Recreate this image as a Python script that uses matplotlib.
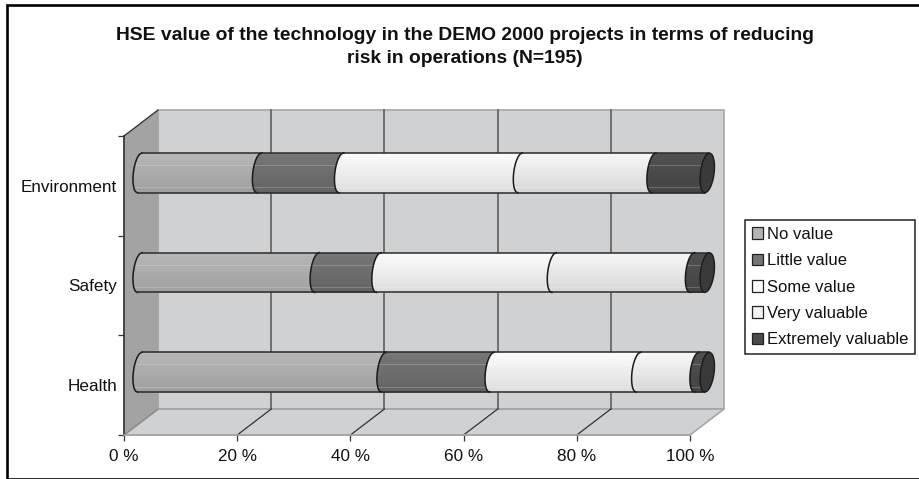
import matplotlib
matplotlib.use('Agg')
import matplotlib.pyplot as plt
import numpy as np
from matplotlib.colors import to_rgb
from matplotlib.patches import Polygon, Rectangle

plt.rcParams['font.family'] = ['Liberation Sans', 'DejaVu Sans']

categories = ['Health', 'Safety', 'Environment']
series = ['No value', 'Little value', 'Some value', 'Very valuable', 'Extremely valuable']
no_value = [43.1, 31.3, 21.1]
little_value = [19.1, 10.9, 14.5]
some_value = [25.9, 31.0, 31.6]
very_valuable = [10.3, 24.4, 23.6]
extremely_valuable = [1.8, 2.6, 9.4]
xticks = [0, 20, 40, 60, 80, 100]
xticklabels = ['0 %', '20 %', '40 %', '60 %', '80 %', '100 %']
title = 'HSE value of the technology in the DEMO 2000 projects in terms of reducing\nrisk in operations (N=195)'

values = [no_value, little_value, some_value, very_valuable, extremely_valuable]
top_colors = ['#b6b6b6', '#767676', '#fbfbfb', '#f6f6f6', '#505050']
low_colors = ['#a0a0a0', '#646464', '#dedede', '#d8d8d8', '#444444']
swatches = ['#b4b4b4', '#747474', '#fbfbfb', '#f2f2f2', '#4a4a4a']

# depth of the fake 3d box, in axis units
depth_x = 6.0
depth_y = 0.26
rx = 1.15
slant = 0.4
half_h = 0.2

fig = plt.figure(figsize=(9.19, 4.79), dpi=100)
# frame runs off the right edge of the picture
fig.add_artist(Rectangle((7.3 / 919, 0.5 / 479), 930 / 919, 473.2 / 479, transform=fig.transFigure,
                         fill=False, edgecolor='black', linewidth=1.9))
ax = fig.add_axes([124 / 919, 44 / 479, 566 / 919, 299 / 479])
ax.set_xlim(0, 100)
ax.set_ylim(0, 3)
ax.patch.set_visible(False)

wall = '#d0d1d3'
edge = '#a6a6a6'
# back wall, floor, side wall
ax.add_patch(Polygon([(depth_x, depth_y), (100 + depth_x, depth_y), (100 + depth_x, 3 + depth_y), (depth_x, 3 + depth_y)],
                     facecolor=wall, edgecolor=edge, linewidth=1.2, clip_on=False, zorder=1))
ax.add_patch(Polygon([(0, 0), (100, 0), (100 + depth_x, depth_y), (depth_x, depth_y)],
                     facecolor=wall, edgecolor=edge, linewidth=1.2, clip_on=False, zorder=1.1))
ax.add_patch(Polygon([(0, 0), (depth_x, depth_y), (depth_x, 3 + depth_y), (0, 3)],
                     facecolor='#a3a3a3', edgecolor='#a3a3a3', linewidth=0.8, clip_on=False, zorder=1.1))
ax.plot([0, depth_x], [3, 3 + depth_y], color='#333333', linewidth=0.9, clip_on=False, zorder=1.2)

for x in xticks[1:-1]:
    ax.plot([x + depth_x, x + depth_x], [depth_y, 3 + depth_y], color='#555555', linewidth=1.1, clip_on=False, zorder=1.3)
    ax.plot([x, x + depth_x], [0, depth_y], color='#333333', linewidth=0.9, clip_on=False, zorder=1.3)
ax.plot([0, depth_x], [0, depth_y], color='#888888', linewidth=0.9, clip_on=False, zorder=1.3)

ys = np.linspace(-1, 1, 41)


def curve(x0, yc):
    # left bulging side of a cylinder slice
    return x0 + slant * ys - rx * np.sqrt(1 - ys ** 2), yc + half_h * ys


for i in range(len(categories)):
    yc = i + 0.5 + depth_y / 2
    left = depth_x / 2 - 0.2
    for s in range(len(series)):
        right = left + values[s][i]
        la, y_la = curve(left, yc)
        ra, y_ra = curve(right, yc)
        n = 12
        c0 = np.array(to_rgb(low_colors[s]))
        c1 = np.array(to_rgb(top_colors[s]))
        for k in range(n):
            # each strip goes on to the top, the next one paints over it
            mask = ys >= -1 + 2 * k / n - 1e-9
            col = c0 + (c1 - c0) * k / (n - 1)
            ax.fill_betweenx(y_la[mask], la[mask], ra[mask], color=col, linewidth=0, clip_on=False, zorder=3)
        # thin light bands
        for t in [0.4, -0.72]:
            ax.plot([left + slant * t - rx * 0.85, right + slant * t - rx * 0.85], [yc + half_h * t] * 2,
                    color='white', alpha=0.2, linewidth=0.8, clip_on=False, zorder=3.1)
        ax.plot(la, y_la, color='#1a1a1a', linewidth=1.1, clip_on=False, zorder=4)
        ax.plot([la[0], ra[0]], [y_la[0], y_la[0]], color='#2a2a2a', linewidth=1.1, clip_on=False, zorder=4)
        ax.plot([la[-1], ra[-1]], [y_la[-1], y_la[-1]], color='#2a2a2a', linewidth=1.1, clip_on=False, zorder=4)
        left = right
    # end cap
    rb = left + slant * ys + rx * 1.1 * np.sqrt(1 - ys ** 2)
    lb, y_lb = curve(left, yc)
    ax.fill(np.r_[lb, rb[::-1]], np.r_[y_lb, y_lb[::-1]], facecolor='#3a3a3a', edgecolor='#1a1a1a',
            linewidth=1.0, clip_on=False, zorder=5)

for side in ['top', 'right']:
    ax.spines[side].set_visible(False)
ax.spines['left'].set_color('#333333')
ax.spines['left'].set_linewidth(1.2)
ax.spines['bottom'].set_color(edge)
ax.spines['bottom'].set_linewidth(1.2)
for sp in ax.spines.values():
    sp.set_zorder(2)

ax.set_xticks(xticks)
ax.set_xticklabels(xticklabels, fontsize=12.3, color='#111111')
ax.set_yticks([0, 1, 2, 3])
ax.set_yticklabels([])
ax.set_yticks([0.5, 1.5, 2.5], minor=True)
ax.set_yticklabels(categories, minor=True, fontsize=12.3, color='#111111')
ax.tick_params(axis='x', length=4, width=0.9, color='#333333', pad=6)
ax.tick_params(axis='y', which='major', length=4, width=0.9, color='#333333')
ax.tick_params(axis='y', which='minor', length=0, pad=5)

fig.text(465 / 919, 1 - 47 / 479, title, ha='center', va='center', fontsize=13.85, fontweight='bold',
         color='#111111', linespacing=1.45)

handles = [Rectangle((0, 0), 1, 1, facecolor=swatches[i], edgecolor='#222222', linewidth=0.9) for i in range(len(series))]
leg = fig.legend(handles, series, loc='upper left', bbox_to_anchor=(745 / 919, 1 - 220 / 479), fontsize=12.0,
                 frameon=True, fancybox=False, edgecolor='#222222', framealpha=1, borderaxespad=0,
                 handlelength=0.68, handleheight=0.68, handletextpad=0.2, labelspacing=0.68, borderpad=0.42)
leg.get_frame().set_linewidth(1.1)
for t in leg.get_texts():
    t.set_color('#111111')

fig.savefig('out.png', dpi=100)
